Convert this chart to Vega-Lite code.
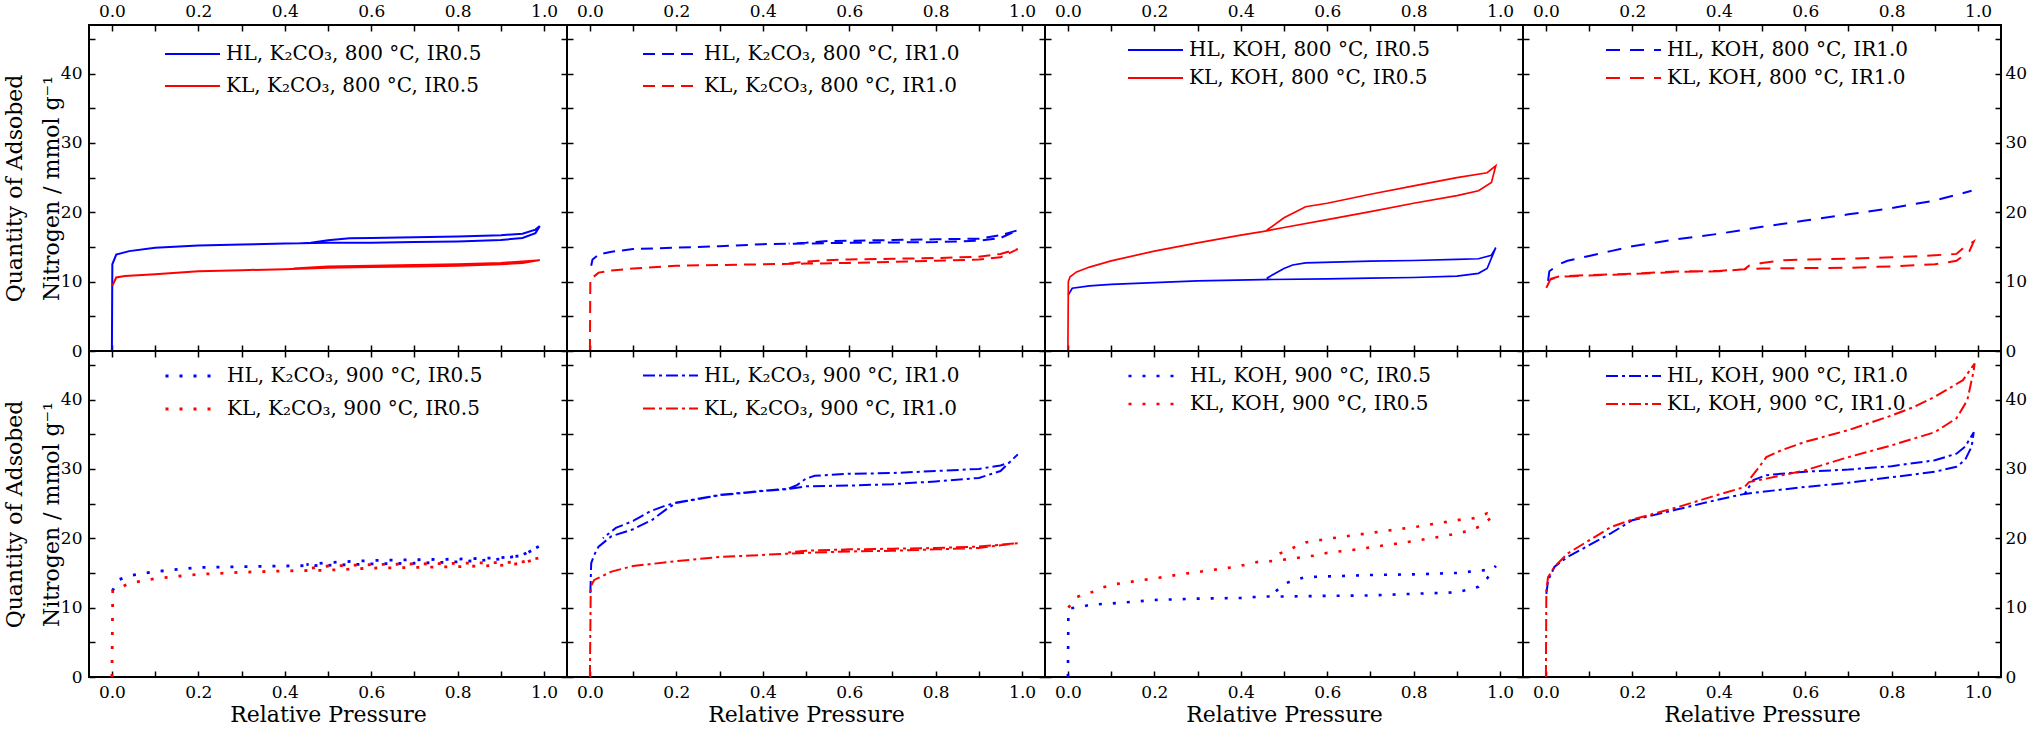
{
"$schema":"https://vega.github.io/schema/vega-lite/v6.json",
"background":"white",
"padding":{"left":2,"top":1,"right":0,"bottom":0},
"columns":4,"spacing":0,"bounds":"flush",
"datasets":{
"p1":[
{"g":"HL","o":1,"p":0,"q":0},{"g":"HL","o":2,"p":0.001,"q":12.5},{"g":"HL","o":3,"p":0.01,"q":13.9},{"g":"HL","o":4,"p":0.04,"q":14.4},{"g":"HL","o":5,"p":0.1,"q":14.9},{"g":"HL","o":6,"p":0.2,"q":15.2},{"g":"HL","o":7,"p":0.3,"q":15.35},{"g":"HL","o":8,"p":0.4,"q":15.5},{"g":"HL","o":9,"p":0.5,"q":15.6},{"g":"HL","o":10,"p":0.6,"q":15.6},{"g":"HL","o":11,"p":0.7,"q":15.7},{"g":"HL","o":12,"p":0.8,"q":15.8},{"g":"HL","o":13,"p":0.9,"q":16.0},{"g":"HL","o":14,"p":0.95,"q":16.3},{"g":"HL","o":15,"p":0.98,"q":17.0},{"g":"HL","o":16,"p":0.99,"q":18.0},{"g":"HL","o":17,"p":0.98,"q":17.5},{"g":"HL","o":18,"p":0.95,"q":16.9},{"g":"HL","o":19,"p":0.9,"q":16.7},{"g":"HL","o":20,"p":0.8,"q":16.5},{"g":"HL","o":21,"p":0.7,"q":16.4},{"g":"HL","o":22,"p":0.6,"q":16.3},{"g":"HL","o":23,"p":0.55,"q":16.25},{"g":"HL","o":24,"p":0.5,"q":15.95},{"g":"HL","o":25,"p":0.46,"q":15.6},{"g":"HL","o":26,"p":0.43,"q":15.5},
{"g":"KL","o":1,"p":0.001,"q":9.4},{"g":"KL","o":2,"p":0.01,"q":10.6},{"g":"KL","o":3,"p":0.03,"q":10.8},{"g":"KL","o":4,"p":0.1,"q":11.06},{"g":"KL","o":5,"p":0.2,"q":11.5},{"g":"KL","o":6,"p":0.3,"q":11.65},{"g":"KL","o":7,"p":0.4,"q":11.8},{"g":"KL","o":8,"p":0.5,"q":12.0},{"g":"KL","o":9,"p":0.6,"q":12.1},{"g":"KL","o":10,"p":0.7,"q":12.2},{"g":"KL","o":11,"p":0.8,"q":12.3},{"g":"KL","o":12,"p":0.9,"q":12.5},{"g":"KL","o":13,"p":0.95,"q":12.7},{"g":"KL","o":14,"p":0.99,"q":13.1},{"g":"KL","o":15,"p":0.95,"q":12.9},{"g":"KL","o":16,"p":0.9,"q":12.7},{"g":"KL","o":17,"p":0.8,"q":12.5},{"g":"KL","o":18,"p":0.7,"q":12.4},{"g":"KL","o":19,"p":0.6,"q":12.3},{"g":"KL","o":20,"p":0.5,"q":12.2},{"g":"KL","o":21,"p":0.45,"q":12.0},{"g":"KL","o":22,"p":0.42,"q":11.9}
],
"p2":[
{"g":"HL","o":1,"p":0.003,"q":12.3},{"g":"HL","o":2,"p":0.006,"q":13.2},{"g":"HL","o":3,"p":0.02,"q":13.9},{"g":"HL","o":4,"p":0.05,"q":14.3},{"g":"HL","o":5,"p":0.1,"q":14.7},{"g":"HL","o":6,"p":0.2,"q":14.9},{"g":"HL","o":7,"p":0.3,"q":15.1},{"g":"HL","o":8,"p":0.4,"q":15.4},{"g":"HL","o":9,"p":0.5,"q":15.5},{"g":"HL","o":10,"p":0.6,"q":15.6},{"g":"HL","o":11,"p":0.7,"q":15.65},{"g":"HL","o":12,"p":0.8,"q":15.7},{"g":"HL","o":13,"p":0.9,"q":15.9},{"g":"HL","o":14,"p":0.95,"q":16.3},{"g":"HL","o":15,"p":0.99,"q":17.4},{"g":"HL","o":16,"p":0.95,"q":16.7},{"g":"HL","o":17,"p":0.9,"q":16.2},{"g":"HL","o":18,"p":0.8,"q":16.1},{"g":"HL","o":19,"p":0.7,"q":16.0},{"g":"HL","o":20,"p":0.6,"q":15.9},{"g":"HL","o":21,"p":0.55,"q":15.85},{"g":"HL","o":22,"p":0.5,"q":15.6},{"g":"HL","o":23,"p":0.46,"q":15.5},
{"g":"KL","o":1,"p":0,"q":0},{"g":"KL","o":2,"p":0.001,"q":10.3},{"g":"KL","o":3,"p":0.02,"q":11.3},{"g":"KL","o":4,"p":0.05,"q":11.6},{"g":"KL","o":5,"p":0.1,"q":11.9},{"g":"KL","o":6,"p":0.2,"q":12.3},{"g":"KL","o":7,"p":0.3,"q":12.4},{"g":"KL","o":8,"p":0.4,"q":12.5},{"g":"KL","o":9,"p":0.5,"q":12.6},{"g":"KL","o":10,"p":0.6,"q":12.7},{"g":"KL","o":11,"p":0.7,"q":12.85},{"g":"KL","o":12,"p":0.8,"q":13.0},{"g":"KL","o":13,"p":0.9,"q":13.2},{"g":"KL","o":14,"p":0.95,"q":13.5},{"g":"KL","o":15,"p":0.99,"q":14.7},{"g":"KL","o":16,"p":0.95,"q":14.0},{"g":"KL","o":17,"p":0.9,"q":13.6},{"g":"KL","o":18,"p":0.8,"q":13.4},{"g":"KL","o":19,"p":0.7,"q":13.3},{"g":"KL","o":20,"p":0.6,"q":13.2},{"g":"KL","o":21,"p":0.55,"q":13.1},{"g":"KL","o":22,"p":0.5,"q":12.9},{"g":"KL","o":23,"p":0.46,"q":12.6}
],
"p3":[
{"g":"HL","o":1,"p":0.001,"q":8.1},{"g":"HL","o":2,"p":0.01,"q":9.05},{"g":"HL","o":3,"p":0.05,"q":9.4},{"g":"HL","o":4,"p":0.1,"q":9.6},{"g":"HL","o":5,"p":0.2,"q":9.86},{"g":"HL","o":6,"p":0.3,"q":10.1},{"g":"HL","o":7,"p":0.45,"q":10.3},{"g":"HL","o":8,"p":0.6,"q":10.4},{"g":"HL","o":9,"p":0.7,"q":10.5},{"g":"HL","o":10,"p":0.8,"q":10.6},{"g":"HL","o":11,"p":0.9,"q":10.8},{"g":"HL","o":12,"p":0.95,"q":11.2},{"g":"HL","o":13,"p":0.97,"q":11.9},{"g":"HL","o":14,"p":0.99,"q":14.9},{"g":"HL","o":15,"p":0.98,"q":13.8},{"g":"HL","o":16,"p":0.95,"q":13.3},{"g":"HL","o":17,"p":0.9,"q":13.2},{"g":"HL","o":18,"p":0.8,"q":13.05},{"g":"HL","o":19,"p":0.7,"q":12.95},{"g":"HL","o":20,"p":0.55,"q":12.7},{"g":"HL","o":21,"p":0.52,"q":12.4},{"g":"HL","o":22,"p":0.5,"q":11.9},{"g":"HL","o":23,"p":0.46,"q":10.5},
{"g":"KL","o":1,"p":0,"q":0},{"g":"KL","o":2,"p":0.001,"q":10.0},{"g":"KL","o":3,"p":0.005,"q":10.7},{"g":"KL","o":4,"p":0.02,"q":11.4},{"g":"KL","o":5,"p":0.05,"q":12.1},{"g":"KL","o":6,"p":0.1,"q":13.0},{"g":"KL","o":7,"p":0.2,"q":14.4},{"g":"KL","o":8,"p":0.3,"q":15.6},{"g":"KL","o":9,"p":0.4,"q":16.7},{"g":"KL","o":10,"p":0.45,"q":17.2},{"g":"KL","o":11,"p":0.5,"q":17.8},{"g":"KL","o":12,"p":0.6,"q":18.95},{"g":"KL","o":13,"p":0.7,"q":20.1},{"g":"KL","o":14,"p":0.8,"q":21.3},{"g":"KL","o":15,"p":0.9,"q":22.4},{"g":"KL","o":16,"p":0.95,"q":23.1},{"g":"KL","o":17,"p":0.98,"q":24.3},{"g":"KL","o":18,"p":0.99,"q":26.7},{"g":"KL","o":19,"p":0.97,"q":25.7},{"g":"KL","o":20,"p":0.9,"q":25.0},{"g":"KL","o":21,"p":0.8,"q":23.8},{"g":"KL","o":22,"p":0.7,"q":22.6},{"g":"KL","o":23,"p":0.6,"q":21.3},{"g":"KL","o":24,"p":0.55,"q":20.8},{"g":"KL","o":25,"p":0.5,"q":19.2},{"g":"KL","o":26,"p":0.46,"q":17.4}
],
"p4":[
{"g":"HL","o":1,"p":0.005,"q":10.1},{"g":"HL","o":2,"p":0.008,"q":11.5},{"g":"HL","o":3,"p":0.03,"q":12.5},{"g":"HL","o":4,"p":0.05,"q":13.0},{"g":"HL","o":5,"p":0.1,"q":13.7},{"g":"HL","o":6,"p":0.15,"q":14.4},{"g":"HL","o":7,"p":0.2,"q":15.1},{"g":"HL","o":8,"p":0.3,"q":16.1},{"g":"HL","o":9,"p":0.4,"q":16.9},{"g":"HL","o":10,"p":0.5,"q":17.9},{"g":"HL","o":11,"p":0.6,"q":18.8},{"g":"HL","o":12,"p":0.7,"q":19.7},{"g":"HL","o":13,"p":0.8,"q":20.6},{"g":"HL","o":14,"p":0.9,"q":21.7},{"g":"HL","o":15,"p":0.95,"q":22.5},{"g":"HL","o":16,"p":0.985,"q":23.1},
{"g":"KL","o":1,"p":0.001,"q":9.1},{"g":"KL","o":2,"p":0.01,"q":10.3},{"g":"KL","o":3,"p":0.03,"q":10.7},{"g":"KL","o":4,"p":0.1,"q":10.9},{"g":"KL","o":5,"p":0.2,"q":11.1},{"g":"KL","o":6,"p":0.3,"q":11.4},{"g":"KL","o":7,"p":0.4,"q":11.5},{"g":"KL","o":8,"p":0.46,"q":11.8},{"g":"KL","o":9,"p":0.5,"q":11.9},{"g":"KL","o":10,"p":0.6,"q":11.95},{"g":"KL","o":11,"p":0.7,"q":12.0},{"g":"KL","o":12,"p":0.8,"q":12.2},{"g":"KL","o":13,"p":0.9,"q":12.5},{"g":"KL","o":14,"p":0.95,"q":13.0},{"g":"KL","o":15,"p":0.98,"q":14.4},{"g":"KL","o":16,"p":0.99,"q":15.8},{"g":"KL","o":17,"p":0.97,"q":15.1},{"g":"KL","o":18,"p":0.95,"q":14.0},{"g":"KL","o":19,"p":0.9,"q":13.8},{"g":"KL","o":20,"p":0.8,"q":13.5},{"g":"KL","o":21,"p":0.7,"q":13.3},{"g":"KL","o":22,"p":0.6,"q":13.2},{"g":"KL","o":23,"p":0.55,"q":13.1},{"g":"KL","o":24,"p":0.5,"q":12.7},{"g":"KL","o":25,"p":0.47,"q":12.3},{"g":"KL","o":26,"p":0.46,"q":11.8},{"g":"KL","o":27,"p":0.4,"q":11.55},{"g":"KL","o":28,"p":0.3,"q":11.45},{"g":"KL","o":29,"p":0.2,"q":11.15},{"g":"KL","o":30,"p":0.1,"q":10.95},{"g":"KL","o":31,"p":0.03,"q":10.75},{"g":"KL","o":32,"p":0.01,"q":10.4}
],
"p5":[
{"g":"HL","o":1,"p":0.001,"q":12.4},{"g":"HL","o":2,"p":0.015,"q":14.0},{"g":"HL","o":3,"p":0.04,"q":14.6},{"g":"HL","o":4,"p":0.1,"q":15.2},{"g":"HL","o":5,"p":0.2,"q":15.8},{"g":"HL","o":6,"p":0.3,"q":15.9},{"g":"HL","o":7,"p":0.4,"q":16.0},{"g":"HL","o":8,"p":0.5,"q":16.1},{"g":"HL","o":9,"p":0.6,"q":16.3},{"g":"HL","o":10,"p":0.7,"q":16.4},{"g":"HL","o":11,"p":0.8,"q":16.6},{"g":"HL","o":12,"p":0.9,"q":17.0},{"g":"HL","o":13,"p":0.95,"q":17.6},{"g":"HL","o":14,"p":0.99,"q":18.9},{"g":"HL","o":15,"p":0.95,"q":17.5},{"g":"HL","o":16,"p":0.9,"q":17.2},{"g":"HL","o":17,"p":0.8,"q":17.0},{"g":"HL","o":18,"p":0.7,"q":16.9},{"g":"HL","o":19,"p":0.6,"q":16.8},{"g":"HL","o":20,"p":0.5,"q":16.5},{"g":"HL","o":21,"p":0.45,"q":16.2},
{"g":"KL","o":1,"p":0,"q":0},{"g":"KL","o":2,"p":0.002,"q":12.4},{"g":"KL","o":3,"p":0.04,"q":13.5},{"g":"KL","o":4,"p":0.1,"q":14.2},{"g":"KL","o":5,"p":0.2,"q":14.8},{"g":"KL","o":6,"p":0.3,"q":15.1},{"g":"KL","o":7,"p":0.4,"q":15.3},{"g":"KL","o":8,"p":0.5,"q":15.4},{"g":"KL","o":9,"p":0.6,"q":15.7},{"g":"KL","o":10,"p":0.7,"q":15.8},{"g":"KL","o":11,"p":0.8,"q":15.9},{"g":"KL","o":12,"p":0.9,"q":16.1},{"g":"KL","o":13,"p":0.95,"q":16.4},{"g":"KL","o":14,"p":0.99,"q":17.2},{"g":"KL","o":15,"p":0.95,"q":16.6},{"g":"KL","o":16,"p":0.9,"q":16.5},{"g":"KL","o":17,"p":0.8,"q":16.4},{"g":"KL","o":18,"p":0.7,"q":16.3},{"g":"KL","o":19,"p":0.6,"q":16.2},{"g":"KL","o":20,"p":0.5,"q":16.0},{"g":"KL","o":21,"p":0.45,"q":15.6}
],
"p6":[
{"g":"HL","o":1,"p":0.001,"q":12.1},{"g":"HL","o":2,"p":0.003,"q":16.4},{"g":"HL","o":3,"p":0.01,"q":17.6},{"g":"HL","o":4,"p":0.02,"q":18.8},{"g":"HL","o":5,"p":0.04,"q":19.8},{"g":"HL","o":6,"p":0.05,"q":20.3},{"g":"HL","o":7,"p":0.1,"q":21.3},{"g":"HL","o":8,"p":0.145,"q":22.7},{"g":"HL","o":9,"p":0.175,"q":24.1},{"g":"HL","o":10,"p":0.2,"q":25.1},{"g":"HL","o":11,"p":0.3,"q":26.2},{"g":"HL","o":12,"p":0.4,"q":26.8},{"g":"HL","o":13,"p":0.46,"q":27.1},{"g":"HL","o":14,"p":0.5,"q":27.5},{"g":"HL","o":15,"p":0.6,"q":27.6},{"g":"HL","o":16,"p":0.7,"q":27.8},{"g":"HL","o":17,"p":0.8,"q":28.2},{"g":"HL","o":18,"p":0.9,"q":28.7},{"g":"HL","o":19,"p":0.95,"q":29.7},{"g":"HL","o":20,"p":0.99,"q":32.1},{"g":"HL","o":21,"p":0.97,"q":30.9},{"g":"HL","o":22,"p":0.95,"q":30.5},{"g":"HL","o":23,"p":0.9,"q":30.0},{"g":"HL","o":24,"p":0.8,"q":29.7},{"g":"HL","o":25,"p":0.7,"q":29.4},{"g":"HL","o":26,"p":0.6,"q":29.3},{"g":"HL","o":27,"p":0.52,"q":29.0},{"g":"HL","o":28,"p":0.5,"q":28.6},{"g":"HL","o":29,"p":0.48,"q":27.7},{"g":"HL","o":30,"p":0.46,"q":27.15},{"g":"HL","o":31,"p":0.4,"q":26.85},{"g":"HL","o":32,"p":0.3,"q":26.25},{"g":"HL","o":33,"p":0.2,"q":25.15},{"g":"HL","o":34,"p":0.17,"q":24.6},{"g":"HL","o":35,"p":0.14,"q":23.9},{"g":"HL","o":36,"p":0.1,"q":22.5},{"g":"HL","o":37,"p":0.06,"q":21.5},{"g":"HL","o":38,"p":0.03,"q":20.0},
{"g":"KL","o":1,"p":0,"q":0},{"g":"KL","o":2,"p":0.002,"q":13.1},{"g":"KL","o":3,"p":0.01,"q":14.0},{"g":"KL","o":4,"p":0.03,"q":14.6},{"g":"KL","o":5,"p":0.05,"q":15.2},{"g":"KL","o":6,"p":0.1,"q":16.0},{"g":"KL","o":7,"p":0.2,"q":16.7},{"g":"KL","o":8,"p":0.3,"q":17.3},{"g":"KL","o":9,"p":0.4,"q":17.6},{"g":"KL","o":10,"p":0.5,"q":17.9},{"g":"KL","o":11,"p":0.6,"q":18.1},{"g":"KL","o":12,"p":0.7,"q":18.2},{"g":"KL","o":13,"p":0.8,"q":18.4},{"g":"KL","o":14,"p":0.9,"q":18.6},{"g":"KL","o":15,"p":0.99,"q":19.3},{"g":"KL","o":16,"p":0.9,"q":18.8},{"g":"KL","o":17,"p":0.8,"q":18.6},{"g":"KL","o":18,"p":0.7,"q":18.5},{"g":"KL","o":19,"p":0.6,"q":18.4},{"g":"KL","o":20,"p":0.5,"q":18.2},{"g":"KL","o":21,"p":0.45,"q":17.9}
],
"p7":[
{"g":"HL","o":1,"p":0,"q":0},{"g":"HL","o":2,"p":0.001,"q":8.6},{"g":"HL","o":3,"p":0.005,"q":9.9},{"g":"HL","o":4,"p":0.03,"q":10.1},{"g":"HL","o":5,"p":0.05,"q":10.4},{"g":"HL","o":6,"p":0.1,"q":10.6},{"g":"HL","o":7,"p":0.2,"q":11.1},{"g":"HL","o":8,"p":0.3,"q":11.3},{"g":"HL","o":9,"p":0.4,"q":11.4},{"g":"HL","o":10,"p":0.45,"q":11.6},{"g":"HL","o":11,"p":0.5,"q":11.6},{"g":"HL","o":12,"p":0.6,"q":11.7},{"g":"HL","o":13,"p":0.7,"q":11.75},{"g":"HL","o":14,"p":0.8,"q":12.0},{"g":"HL","o":15,"p":0.9,"q":12.2},{"g":"HL","o":16,"p":0.95,"q":13.0},{"g":"HL","o":17,"p":0.97,"q":14.2},{"g":"HL","o":18,"p":0.99,"q":16.0},{"g":"HL","o":19,"p":0.98,"q":15.5},{"g":"HL","o":20,"p":0.9,"q":15.0},{"g":"HL","o":21,"p":0.8,"q":14.8},{"g":"HL","o":22,"p":0.7,"q":14.7},{"g":"HL","o":23,"p":0.6,"q":14.5},{"g":"HL","o":24,"p":0.55,"q":14.4},{"g":"HL","o":25,"p":0.52,"q":13.9},{"g":"HL","o":26,"p":0.5,"q":13.4},{"g":"HL","o":27,"p":0.48,"q":12.3},{"g":"HL","o":28,"p":0.46,"q":11.6},
{"g":"KL","o":1,"p":0.001,"q":10.0},{"g":"KL","o":2,"p":0.02,"q":11.5},{"g":"KL","o":3,"p":0.035,"q":11.9},{"g":"KL","o":4,"p":0.065,"q":12.4},{"g":"KL","o":5,"p":0.08,"q":12.9},{"g":"KL","o":6,"p":0.11,"q":13.4},{"g":"KL","o":7,"p":0.16,"q":13.85},{"g":"KL","o":8,"p":0.21,"q":14.3},{"g":"KL","o":9,"p":0.26,"q":14.8},{"g":"KL","o":10,"p":0.32,"q":15.3},{"g":"KL","o":11,"p":0.39,"q":15.9},{"g":"KL","o":12,"p":0.44,"q":16.6},{"g":"KL","o":13,"p":0.47,"q":16.7},{"g":"KL","o":14,"p":0.51,"q":17.0},{"g":"KL","o":15,"p":0.57,"q":17.5},{"g":"KL","o":16,"p":0.6,"q":17.9},{"g":"KL","o":17,"p":0.67,"q":18.4},{"g":"KL","o":18,"p":0.7,"q":18.7},{"g":"KL","o":19,"p":0.77,"q":19.3},{"g":"KL","o":20,"p":0.8,"q":19.6},{"g":"KL","o":21,"p":0.87,"q":20.3},{"g":"KL","o":22,"p":0.9,"q":20.7},{"g":"KL","o":23,"p":0.93,"q":21.1},{"g":"KL","o":24,"p":0.96,"q":21.9},{"g":"KL","o":25,"p":0.985,"q":23.3},{"g":"KL","o":26,"p":0.97,"q":23.6},{"g":"KL","o":27,"p":0.94,"q":22.9},{"g":"KL","o":28,"p":0.91,"q":22.7},{"g":"KL","o":29,"p":0.87,"q":22.3},{"g":"KL","o":30,"p":0.81,"q":21.7},{"g":"KL","o":31,"p":0.74,"q":21.1},{"g":"KL","o":32,"p":0.68,"q":20.6},{"g":"KL","o":33,"p":0.61,"q":20.0},{"g":"KL","o":34,"p":0.55,"q":19.4},{"g":"KL","o":35,"p":0.52,"q":18.6},{"g":"KL","o":36,"p":0.49,"q":17.8},{"g":"KL","o":37,"p":0.47,"q":16.9}
],
"p8":[
{"g":"HL","o":1,"p":0.001,"q":12.0},{"g":"HL","o":2,"p":0.005,"q":13.9},{"g":"HL","o":3,"p":0.02,"q":15.9},{"g":"HL","o":4,"p":0.05,"q":17.3},{"g":"HL","o":5,"p":0.1,"q":19.0},{"g":"HL","o":6,"p":0.15,"q":20.7},{"g":"HL","o":7,"p":0.2,"q":22.6},{"g":"HL","o":8,"p":0.3,"q":24.1},{"g":"HL","o":9,"p":0.4,"q":25.6},{"g":"HL","o":10,"p":0.46,"q":26.4},{"g":"HL","o":11,"p":0.5,"q":26.7},{"g":"HL","o":12,"p":0.6,"q":27.4},{"g":"HL","o":13,"p":0.7,"q":28.0},{"g":"HL","o":14,"p":0.8,"q":28.8},{"g":"HL","o":15,"p":0.9,"q":29.6},{"g":"HL","o":16,"p":0.95,"q":30.3},{"g":"HL","o":17,"p":0.97,"q":31.3},{"g":"HL","o":18,"p":0.985,"q":33.2},{"g":"HL","o":19,"p":0.99,"q":35.3},{"g":"HL","o":20,"p":0.97,"q":33.2},{"g":"HL","o":21,"p":0.95,"q":32.2},{"g":"HL","o":22,"p":0.9,"q":31.25},{"g":"HL","o":23,"p":0.8,"q":30.4},{"g":"HL","o":24,"p":0.7,"q":29.9},{"g":"HL","o":25,"p":0.6,"q":29.6},{"g":"HL","o":26,"p":0.51,"q":29.1},{"g":"HL","o":27,"p":0.48,"q":28.4},{"g":"HL","o":28,"p":0.47,"q":27.4},{"g":"HL","o":29,"p":0.46,"q":26.4},
{"g":"KL","o":1,"p":0,"q":0},{"g":"KL","o":2,"p":0.001,"q":12.5},{"g":"KL","o":3,"p":0.005,"q":14.4},{"g":"KL","o":4,"p":0.02,"q":15.9},{"g":"KL","o":5,"p":0.05,"q":17.8},{"g":"KL","o":6,"p":0.1,"q":19.7},{"g":"KL","o":7,"p":0.15,"q":21.6},{"g":"KL","o":8,"p":0.2,"q":22.7},{"g":"KL","o":9,"p":0.3,"q":24.4},{"g":"KL","o":10,"p":0.4,"q":26.3},{"g":"KL","o":11,"p":0.46,"q":27.4},{"g":"KL","o":12,"p":0.47,"q":28.1},{"g":"KL","o":13,"p":0.51,"q":28.6},{"g":"KL","o":14,"p":0.6,"q":29.8},{"g":"KL","o":15,"p":0.7,"q":31.7},{"g":"KL","o":16,"p":0.8,"q":33.4},{"g":"KL","o":17,"p":0.9,"q":35.3},{"g":"KL","o":18,"p":0.95,"q":37.3},{"g":"KL","o":19,"p":0.975,"q":39.9},{"g":"KL","o":20,"p":0.99,"q":44.2},{"g":"KL","o":21,"p":0.992,"q":45.2},{"g":"KL","o":22,"p":0.965,"q":42.8},{"g":"KL","o":23,"p":0.9,"q":40.4},{"g":"KL","o":24,"p":0.85,"q":38.9},{"g":"KL","o":25,"p":0.8,"q":37.7},{"g":"KL","o":26,"p":0.7,"q":35.6},{"g":"KL","o":27,"p":0.6,"q":33.9},{"g":"KL","o":28,"p":0.545,"q":32.7},{"g":"KL","o":29,"p":0.51,"q":31.7},{"g":"KL","o":30,"p":0.49,"q":30.0},{"g":"KL","o":31,"p":0.47,"q":28.4}
]
},
"concat":[
{"width":478,"height":326,"data":{"name":"p1"},"layer":[
 {"mark":{"type":"line","strokeWidth":2},"encoding":{
  "x":{"field":"p","type":"quantitative","scale":{"domain":[-0.053,1.053],"nice":false,"zero":false},"axis":{"orient":"bottom","values":[0,0.1,0.2,0.3,0.4,0.5,0.6,0.7,0.8,0.9,1],"labels":false,"title":null}},
  "y":{"field":"q","type":"quantitative","scale":{"domain":[0,47],"nice":false,"zero":false},"axis":{"orient":"left","values":[0,5,10,15,20,25,30,35,40,45],"labelExpr":"datum.value % 10 == 0 ? datum.label : ''","title":["Quantity of Adsobed","Nitrogen / mmol g⁻¹"],"titleLineHeight":37}},
  "color":{"field":"g","type":"nominal","scale":{"domain":["HL","KL"],"range":["#0000ff","#ff0000"]},"legend":{"title":null,"labelExpr":"datum.label + ', K₂CO₃, 800 °C, IR0.5'","legendX":92.5,"legendY":18,"rowPadding":11}},
  "order":{"field":"o","type":"quantitative"}}},
 {"mark":{"type":"point","opacity":0},"encoding":{
  "x":{"field":"p","type":"quantitative","scale":{"domain":[-0.053,1.053],"nice":false,"zero":false},"axis":{"orient":"top","values":[0,0.1,0.2,0.3,0.4,0.5,0.6,0.7,0.8,0.9,1],"labelExpr":"round(datum.value*10) % 2 == 0 ? format(datum.value, '.1f') : ''","title":null}},
  "y":{"field":"q","type":"quantitative","scale":{"domain":[0,47],"nice":false,"zero":false},"axis":{"orient":"right","values":[0,5,10,15,20,25,30,35,40,45],"labels":false,"title":null}}}}
],"resolve":{"axis":{"x":"independent","y":"independent"}}},
{"width":478,"height":326,"data":{"name":"p2"},"layer":[
 {"mark":{"type":"line","strokeWidth":2,"strokeDash":[12,7]},"encoding":{
  "x":{"field":"p","type":"quantitative","scale":{"domain":[-0.053,1.053],"nice":false,"zero":false},"axis":{"orient":"bottom","values":[0,0.1,0.2,0.3,0.4,0.5,0.6,0.7,0.8,0.9,1],"labels":false,"title":null}},
  "y":{"field":"q","type":"quantitative","scale":{"domain":[0,47],"nice":false,"zero":false},"axis":{"orient":"left","values":[0,5,10,15,20,25,30,35,40,45],"labels":false,"title":null}},
  "color":{"field":"g","type":"nominal","scale":{"domain":["HL","KL"],"range":["#0000ff","#ff0000"]},"legend":{"title":null,"labelExpr":"datum.label + ', K₂CO₃, 800 °C, IR1.0'","legendX":92.5,"legendY":18,"rowPadding":11,"symbolDash":[12,7]}},
  "order":{"field":"o","type":"quantitative"}}},
 {"mark":{"type":"point","opacity":0},"encoding":{
  "x":{"field":"p","type":"quantitative","scale":{"domain":[-0.053,1.053],"nice":false,"zero":false},"axis":{"orient":"top","values":[0,0.1,0.2,0.3,0.4,0.5,0.6,0.7,0.8,0.9,1],"labelExpr":"round(datum.value*10) % 2 == 0 ? format(datum.value, '.1f') : ''","title":null}},
  "y":{"field":"q","type":"quantitative","scale":{"domain":[0,47],"nice":false,"zero":false},"axis":{"orient":"right","values":[0,5,10,15,20,25,30,35,40,45],"labels":false,"title":null}}}}
],"resolve":{"axis":{"x":"independent","y":"independent"}}},
{"width":478,"height":326,"data":{"name":"p3"},"layer":[
 {"mark":{"type":"line","strokeWidth":1.7},"encoding":{
  "x":{"field":"p","type":"quantitative","scale":{"domain":[-0.053,1.053],"nice":false,"zero":false},"axis":{"orient":"bottom","values":[0,0.1,0.2,0.3,0.4,0.5,0.6,0.7,0.8,0.9,1],"labels":false,"title":null}},
  "y":{"field":"q","type":"quantitative","scale":{"domain":[0,47],"nice":false,"zero":false},"axis":{"orient":"left","values":[0,5,10,15,20,25,30,35,40,45],"labels":false,"title":null}},
  "color":{"field":"g","type":"nominal","scale":{"domain":["HL","KL"],"range":["#0000ff","#ff0000"]},"legend":{"title":null,"labelExpr":"datum.label + ', KOH, 800 °C, IR0.5'","legendX":99.5,"legendY":14,"rowPadding":7}},
  "order":{"field":"o","type":"quantitative"}}},
 {"mark":{"type":"point","opacity":0},"encoding":{
  "x":{"field":"p","type":"quantitative","scale":{"domain":[-0.053,1.053],"nice":false,"zero":false},"axis":{"orient":"top","values":[0,0.1,0.2,0.3,0.4,0.5,0.6,0.7,0.8,0.9,1],"labelExpr":"round(datum.value*10) % 2 == 0 ? format(datum.value, '.1f') : ''","title":null}},
  "y":{"field":"q","type":"quantitative","scale":{"domain":[0,47],"nice":false,"zero":false},"axis":{"orient":"right","values":[0,5,10,15,20,25,30,35,40,45],"labels":false,"title":null}}}}
],"resolve":{"axis":{"x":"independent","y":"independent"}}},
{"width":478,"height":326,"data":{"name":"p4"},"layer":[
 {"mark":{"type":"line","strokeWidth":2,"strokeDash":[14,10]},"encoding":{
  "x":{"field":"p","type":"quantitative","scale":{"domain":[-0.053,1.053],"nice":false,"zero":false},"axis":{"orient":"bottom","values":[0,0.1,0.2,0.3,0.4,0.5,0.6,0.7,0.8,0.9,1],"labels":false,"title":null}},
  "y":{"field":"q","type":"quantitative","scale":{"domain":[0,47],"nice":false,"zero":false},"axis":{"orient":"left","values":[0,5,10,15,20,25,30,35,40,45],"labels":false,"title":null}},
  "color":{"field":"g","type":"nominal","scale":{"domain":["HL","KL"],"range":["#0000ff","#ff0000"]},"legend":{"title":null,"labelExpr":"datum.label + ', KOH, 800 °C, IR1.0'","legendX":99.5,"legendY":14,"rowPadding":7,"symbolDash":[14,10]}},
  "order":{"field":"o","type":"quantitative"}}},
 {"mark":{"type":"point","opacity":0},"encoding":{
  "x":{"field":"p","type":"quantitative","scale":{"domain":[-0.053,1.053],"nice":false,"zero":false},"axis":{"orient":"top","values":[0,0.1,0.2,0.3,0.4,0.5,0.6,0.7,0.8,0.9,1],"labelExpr":"round(datum.value*10) % 2 == 0 ? format(datum.value, '.1f') : ''","title":null}},
  "y":{"field":"q","type":"quantitative","scale":{"domain":[0,47],"nice":false,"zero":false},"axis":{"orient":"right","values":[0,5,10,15,20,25,30,35,40,45],"labelExpr":"datum.value % 10 == 0 ? datum.label : ''","title":null}}}}
],"resolve":{"axis":{"x":"independent","y":"independent"}}},
{"width":478,"height":326,"data":{"name":"p5"},"layer":[
 {"mark":{"type":"line","strokeWidth":2.8,"strokeDash":[3,11]},"encoding":{
  "x":{"field":"p","type":"quantitative","scale":{"domain":[-0.053,1.053],"nice":false,"zero":false},"axis":{"orient":"bottom","values":[0,0.1,0.2,0.3,0.4,0.5,0.6,0.7,0.8,0.9,1],"labelExpr":"round(datum.value*10) % 2 == 0 ? format(datum.value, '.1f') : ''","title":"Relative Pressure"}},
  "y":{"field":"q","type":"quantitative","scale":{"domain":[0,47],"nice":false,"zero":false},"axis":{"orient":"left","values":[0,5,10,15,20,25,30,35,40,45],"labelExpr":"datum.value % 10 == 0 ? datum.label : ''","title":["Quantity of Adsobed","Nitrogen / mmol g⁻¹"],"titleLineHeight":37}},
  "color":{"field":"g","type":"nominal","scale":{"domain":["HL","KL"],"range":["#0000ff","#ff0000"]},"legend":{"title":null,"labelExpr":"datum.label + ', K₂CO₃, 900 °C, IR0.5'","legendX":92.5,"legendY":13.5,"rowPadding":11,"symbolDash":[3,11],"symbolStrokeWidth":2.8}},
  "order":{"field":"o","type":"quantitative"}}},
 {"mark":{"type":"point","opacity":0},"encoding":{
  "x":{"field":"p","type":"quantitative","scale":{"domain":[-0.053,1.053],"nice":false,"zero":false},"axis":{"orient":"top","values":[0,0.1,0.2,0.3,0.4,0.5,0.6,0.7,0.8,0.9,1],"labels":false,"title":null}},
  "y":{"field":"q","type":"quantitative","scale":{"domain":[0,47],"nice":false,"zero":false},"axis":{"orient":"right","values":[0,5,10,15,20,25,30,35,40,45],"labels":false,"title":null}}}}
],"resolve":{"axis":{"x":"independent","y":"independent"}}},
{"width":478,"height":326,"data":{"name":"p6"},"layer":[
 {"mark":{"type":"line","strokeWidth":2,"strokeDash":[12,4,3,4]},"encoding":{
  "x":{"field":"p","type":"quantitative","scale":{"domain":[-0.053,1.053],"nice":false,"zero":false},"axis":{"orient":"bottom","values":[0,0.1,0.2,0.3,0.4,0.5,0.6,0.7,0.8,0.9,1],"labelExpr":"round(datum.value*10) % 2 == 0 ? format(datum.value, '.1f') : ''","title":"Relative Pressure"}},
  "y":{"field":"q","type":"quantitative","scale":{"domain":[0,47],"nice":false,"zero":false},"axis":{"orient":"left","values":[0,5,10,15,20,25,30,35,40,45],"labels":false,"title":null}},
  "color":{"field":"g","type":"nominal","scale":{"domain":["HL","KL"],"range":["#0000ff","#ff0000"]},"legend":{"title":null,"labelExpr":"datum.label + ', K₂CO₃, 900 °C, IR1.0'","legendX":92.5,"legendY":13.5,"rowPadding":12,"symbolDash":[12,4,3,4]}},
  "order":{"field":"o","type":"quantitative"}}},
 {"mark":{"type":"point","opacity":0},"encoding":{
  "x":{"field":"p","type":"quantitative","scale":{"domain":[-0.053,1.053],"nice":false,"zero":false},"axis":{"orient":"top","values":[0,0.1,0.2,0.3,0.4,0.5,0.6,0.7,0.8,0.9,1],"labels":false,"title":null}},
  "y":{"field":"q","type":"quantitative","scale":{"domain":[0,47],"nice":false,"zero":false},"axis":{"orient":"right","values":[0,5,10,15,20,25,30,35,40,45],"labels":false,"title":null}}}}
],"resolve":{"axis":{"x":"independent","y":"independent"}}},
{"width":478,"height":326,"data":{"name":"p7"},"layer":[
 {"mark":{"type":"line","strokeWidth":2.6,"strokeDash":[3,11]},"encoding":{
  "x":{"field":"p","type":"quantitative","scale":{"domain":[-0.053,1.053],"nice":false,"zero":false},"axis":{"orient":"bottom","values":[0,0.1,0.2,0.3,0.4,0.5,0.6,0.7,0.8,0.9,1],"labelExpr":"round(datum.value*10) % 2 == 0 ? format(datum.value, '.1f') : ''","title":"Relative Pressure"}},
  "y":{"field":"q","type":"quantitative","scale":{"domain":[0,47],"nice":false,"zero":false},"axis":{"orient":"left","values":[0,5,10,15,20,25,30,35,40,45],"labels":false,"title":null}},
  "color":{"field":"g","type":"nominal","scale":{"domain":["HL","KL"],"range":["#0000ff","#ff0000"]},"legend":{"title":null,"labelExpr":"datum.label + ', KOH, 900 °C, IR0.5'","legendX":99.5,"legendY":13.5,"rowPadding":6,"symbolDash":[3,11],"symbolStrokeWidth":2.6}},
  "order":{"field":"o","type":"quantitative"}}},
 {"mark":{"type":"point","opacity":0},"encoding":{
  "x":{"field":"p","type":"quantitative","scale":{"domain":[-0.053,1.053],"nice":false,"zero":false},"axis":{"orient":"top","values":[0,0.1,0.2,0.3,0.4,0.5,0.6,0.7,0.8,0.9,1],"labels":false,"title":null}},
  "y":{"field":"q","type":"quantitative","scale":{"domain":[0,47],"nice":false,"zero":false},"axis":{"orient":"right","values":[0,5,10,15,20,25,30,35,40,45],"labels":false,"title":null}}}}
],"resolve":{"axis":{"x":"independent","y":"independent"}}},
{"width":478,"height":326,"data":{"name":"p8"},"layer":[
 {"mark":{"type":"line","strokeWidth":2,"strokeDash":[12,4,3,4]},"encoding":{
  "x":{"field":"p","type":"quantitative","scale":{"domain":[-0.053,1.053],"nice":false,"zero":false},"axis":{"orient":"bottom","values":[0,0.1,0.2,0.3,0.4,0.5,0.6,0.7,0.8,0.9,1],"labelExpr":"round(datum.value*10) % 2 == 0 ? format(datum.value, '.1f') : ''","title":"Relative Pressure"}},
  "y":{"field":"q","type":"quantitative","scale":{"domain":[0,47],"nice":false,"zero":false},"axis":{"orient":"left","values":[0,5,10,15,20,25,30,35,40,45],"labels":false,"title":null}},
  "color":{"field":"g","type":"nominal","scale":{"domain":["HL","KL"],"range":["#0000ff","#ff0000"]},"legend":{"title":null,"labelExpr":"datum.label + ', KOH, 900 °C, IR1.0'","legendX":99.5,"legendY":14,"rowPadding":7,"symbolDash":[12,4,3,4]}},
  "order":{"field":"o","type":"quantitative"}}},
 {"mark":{"type":"point","opacity":0},"encoding":{
  "x":{"field":"p","type":"quantitative","scale":{"domain":[-0.053,1.053],"nice":false,"zero":false},"axis":{"orient":"top","values":[0,0.1,0.2,0.3,0.4,0.5,0.6,0.7,0.8,0.9,1],"labels":false,"title":null}},
  "y":{"field":"q","type":"quantitative","scale":{"domain":[0,47],"nice":false,"zero":false},"axis":{"orient":"right","values":[0,5,10,15,20,25,30,35,40,45],"labelExpr":"datum.value % 10 == 0 ? datum.label : ''","title":null}}}}
],"resolve":{"axis":{"x":"independent","y":"independent"}}}
],
"resolve":{"scale":{"x":"independent","y":"independent","color":"independent"},"axis":{"x":"independent","y":"independent"},"legend":{"color":"independent"}},
"config":{
 "font":"DejaVu Serif",
 "view":{"stroke":"#000","strokeWidth":2},
 "axis":{"domain":false,"grid":false,"ticks":true,"tickColor":"#000","tickWidth":1.5,"tickSize":-6,"labelFont":"DejaVu Serif","labelFontSize":17,"labelColor":"#000","titleFont":"DejaVu Serif","titleFontSize":22,"titleFontWeight":"normal","titleColor":"#000","labelFlush":false,"labelOverlap":false},
 "axisTop":{"labelPadding":11},
 "axisBottom":{"labelPadding":13,"titlePadding":4},
 "axisLeft":{"labelPadding":13,"titlePadding":-3},
 "axisRight":{"labelPadding":10},
 "legend":{"orient":"none","symbolType":"M-2.75,0H2.75","symbolSize":400,"symbolStrokeWidth":1.8,"labelFont":"DejaVu Serif","labelFontSize":20,"labelColor":"#000","labelOffset":22.5,"labelLimit":600,"padding":0}
}
}
